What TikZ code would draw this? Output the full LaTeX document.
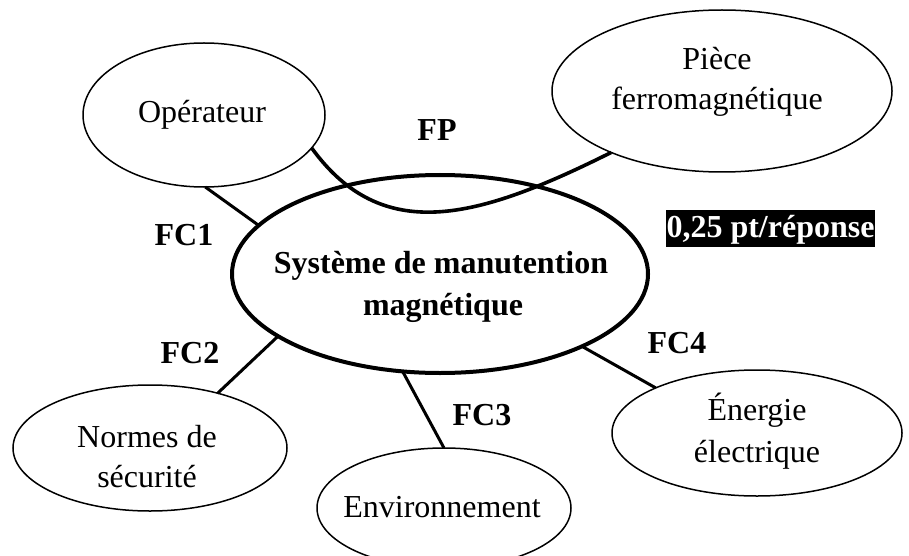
\documentclass[tikz,border=0pt]{standalone}
\usepackage{fontspec}
\setmainfont{Liberation Serif}
\usetikzlibrary{shapes.geometric}
\begin{document}
\begin{tikzpicture}[x=1pt,y=-1pt,
 bubble/.style={ellipse, draw, line width=1.5pt, inner sep=0pt, outer sep=0pt},
 hub/.style={ellipse, draw, line width=4pt, inner sep=0pt, outer sep=0pt},
 txt/.style={font=\fontsize{32}{40}\selectfont, anchor=base, inner sep=0pt},
 lbl/.style={font=\fontsize{32}{40}\selectfont\bfseries, anchor=base, inner sep=0pt},
 link/.style={line width=3pt},
 fpcurve/.style={line width=3.6pt},
]
\useasboundingbox (0,0) rectangle (909,556);
\clip (0,0) rectangle (909,556);
% ellipses
\node[bubble, minimum width=242, minimum height=144] (op) at (204,115) {};
\node[bubble, minimum width=340, minimum height=162] (piece) at (722,91) {};
\node[hub, minimum width=416, minimum height=198] (sys) at (440,274) {};
\node[bubble, minimum width=274, minimum height=126] (normes) at (150,448) {};
\node[bubble, minimum width=254, minimum height=120] (env) at (444,508) {};
\node[bubble, minimum width=290, minimum height=126] (energie) at (757,433) {};
% connectors
\draw[fpcurve] (op.-17.5) .. controls (382,245) and (476,220) .. (piece.209.6);
\draw[link] (op.-89) -- (sys.165.7);
\draw[link] (normes.39.9) -- (sys.201.7);
\draw[link] (sys.249.3) -- (env.90);
\draw[link] (sys.-27.9) -- (energie.156.2);
% texts
\node[txt] (top) at (202,123) {Opérateur};
\node[txt] (tpiece1) at (717,70) {Pièce};
\node[txt] (tpiece2) at (717,110) {ferromagnétique};
\node[lbl] (tsys1) at (441,273) {Système de manutention};
\node[lbl] (tsys2) at (443,315) {magnétique};
\node[txt] (tn1) at (147,447) {Normes de};
\node[txt] (tn2) at (147,487) {sécurité};
\node[txt] (tenv) at (442,517) {Environnement};
\node[txt] (te1) at (757,420) {Énergie};
\node[txt] (te2) at (757,462) {électrique};
% function labels
\node[lbl] (fp) at (437,141) {FP};
\node[lbl] (fc1) at (184,245) {FC1};
\node[lbl] (fc2) at (190,363) {FC2};
\node[lbl] (fc3) at (482,425) {FC3};
\node[lbl] (fc4) at (677,353) {FC4};
% score badge
\node[lbl, fill=black, text=white, inner xsep=0.5pt, inner ysep=0pt, text height=27pt, text depth=10pt] (badge) at (770.5,237) {0,25 pt/réponse};
\end{tikzpicture}
\end{document}
